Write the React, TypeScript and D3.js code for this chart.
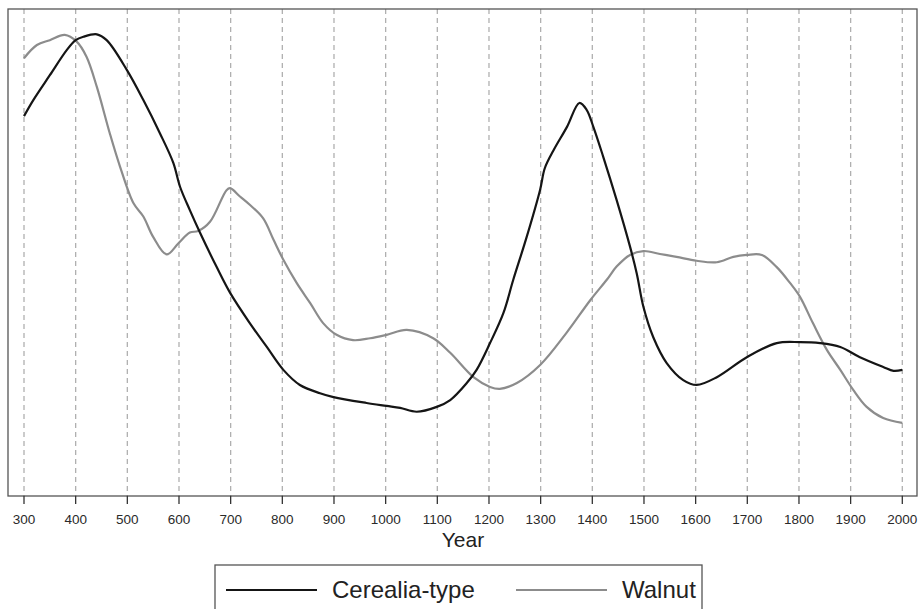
import React from "react";
import * as d3 from "d3";

const years = d3.range(300, 2001, 100);

const cerealYears = [300, 318, 350, 383, 400, 415, 441, 460, 499, 531, 563, 589, 602, 621, 641, 673, 699, 737, 770, 802, 834, 873, 899, 963, 1002, 1028, 1060, 1099, 1125, 1157, 1176, 1202, 1228, 1247, 1273, 1299, 1308, 1325, 1351, 1375, 1389, 1402, 1421, 1447, 1473, 1486, 1499, 1518, 1544, 1576, 1602, 1641, 1699, 1757, 1802, 1841, 1880, 1918, 1963, 1983, 2000];
const cerealValues = [78.0, 81.3, 86.4, 91.6, 93.6, 94.3, 94.8, 93.6, 87.5, 81.3, 74.5, 68.4, 63.5, 58.7, 54.0, 47.0, 41.7, 35.5, 30.6, 25.9, 22.8, 21.1, 20.3, 19.1, 18.5, 18.1, 17.3, 18.3, 19.7, 23.2, 25.9, 31.4, 37.6, 44.4, 53.2, 62.9, 67.3, 71.0, 75.8, 80.7, 79.3, 75.8, 69.7, 60.8, 51.2, 45.7, 38.8, 32.6, 27.3, 23.8, 22.8, 24.4, 28.5, 31.4, 31.6, 31.4, 30.6, 28.5, 26.5, 25.7, 25.9];

const walnutYears = [300, 325, 350, 379, 402, 421, 441, 466, 486, 512, 531, 550, 576, 599, 621, 637, 660, 692, 699, 718, 737, 763, 783, 802, 828, 854, 879, 905, 937, 970, 1002, 1041, 1092, 1125, 1170, 1202, 1221, 1254, 1299, 1350, 1396, 1428, 1447, 1473, 1499, 1531, 1563, 1602, 1641, 1673, 1699, 1728, 1757, 1783, 1802, 1827, 1854, 1880, 1905, 1931, 1963, 2000];
const walnutValues = [89.9, 92.6, 93.6, 94.7, 93.3, 90.2, 84.0, 74.5, 67.6, 60.1, 57.4, 53.2, 49.6, 51.9, 54.1, 54.4, 56.3, 62.8, 63.2, 61.5, 59.8, 57.0, 52.6, 48.5, 43.7, 39.6, 35.5, 33.1, 32.0, 32.4, 33.1, 34.1, 32.4, 29.4, 24.4, 22.4, 22.0, 23.2, 26.9, 33.5, 40.2, 44.4, 47.1, 49.5, 50.3, 49.7, 49.1, 48.3, 48.0, 49.1, 49.5, 49.5, 47.0, 43.7, 40.9, 35.5, 30.0, 25.9, 21.8, 18.3, 16.0, 15.0];

const seriesNames = ["Cerealia-type", "Walnut"];

const W = 922, H = 609;
const plot = { left: 8, right: 917, top: 9, bottom: 496 };

export default function App() {
  const x = d3.scaleLinear().domain([300, 2000]).range([24, 902.3]);
  const y = d3.scaleLinear().domain([0, 100]).range([plot.bottom, plot.top]);
  const line = d3.line<[number, number]>().x(d => x(d[0])).y(d => y(d[1])).curve(d3.curveCatmullRom.alpha(0.5));
  const cereal = cerealYears.map((yr, i) => [yr, cerealValues[i]] as [number, number]);
  const walnut = walnutYears.map((yr, i) => [yr, walnutValues[i]] as [number, number]);
  const font = "'Liberation Sans', Arial, sans-serif";
  return (
    <svg width={W} height={H} style={{ position: "absolute", left: 0, top: 0, background: "#fff" }}>
      <rect x={0} y={0} width={W} height={H} fill="#fff" />
      {years.map(yr => (
        <line key={"g" + yr} x1={x(yr)} x2={x(yr)} y1={plot.top} y2={plot.bottom} stroke="#b0b0b0" strokeWidth={1.3} strokeDasharray="5,4" />
      ))}
      <path d={line(walnut) || ""} fill="none" stroke="#8c8c8c" strokeWidth={2.2} strokeLinejoin="round" />
      <path d={line(cereal) || ""} fill="none" stroke="#151515" strokeWidth={2.2} strokeLinejoin="round" />
      <rect x={plot.left} y={plot.top} width={plot.right - plot.left} height={plot.bottom - plot.top} fill="none" stroke="#555" strokeWidth={1.3} />
      {years.map(yr => (
        <g key={"t" + yr}>
          <line x1={x(yr)} x2={x(yr)} y1={plot.bottom} y2={plot.bottom + 8} stroke="#333" strokeWidth={1.3} />
          <text x={x(yr)} y={524} textAnchor="middle" fontFamily={font} fontSize={13.5} fill="#2a2a2a">{yr}</text>
        </g>
      ))}
      <text x={463} y={547} textAnchor="middle" fontFamily={font} fontSize={21} fill="#222">Year</text>
      <rect x={215} y={565} width={487} height={60} fill="none" stroke="#555" strokeWidth={1.3} />
      <line x1={226} x2={317} y1={590} y2={590} stroke="#151515" strokeWidth={2.2} />
      <text x={332} y={598} fontFamily={font} fontSize={24} fill="#222">{seriesNames[0]}</text>
      <line x1={516} x2={607} y1={590} y2={590} stroke="#8c8c8c" strokeWidth={2.2} />
      <text x={622} y={598} fontFamily={font} fontSize={24} fill="#222">{seriesNames[1]}</text>
    </svg>
  );
}
